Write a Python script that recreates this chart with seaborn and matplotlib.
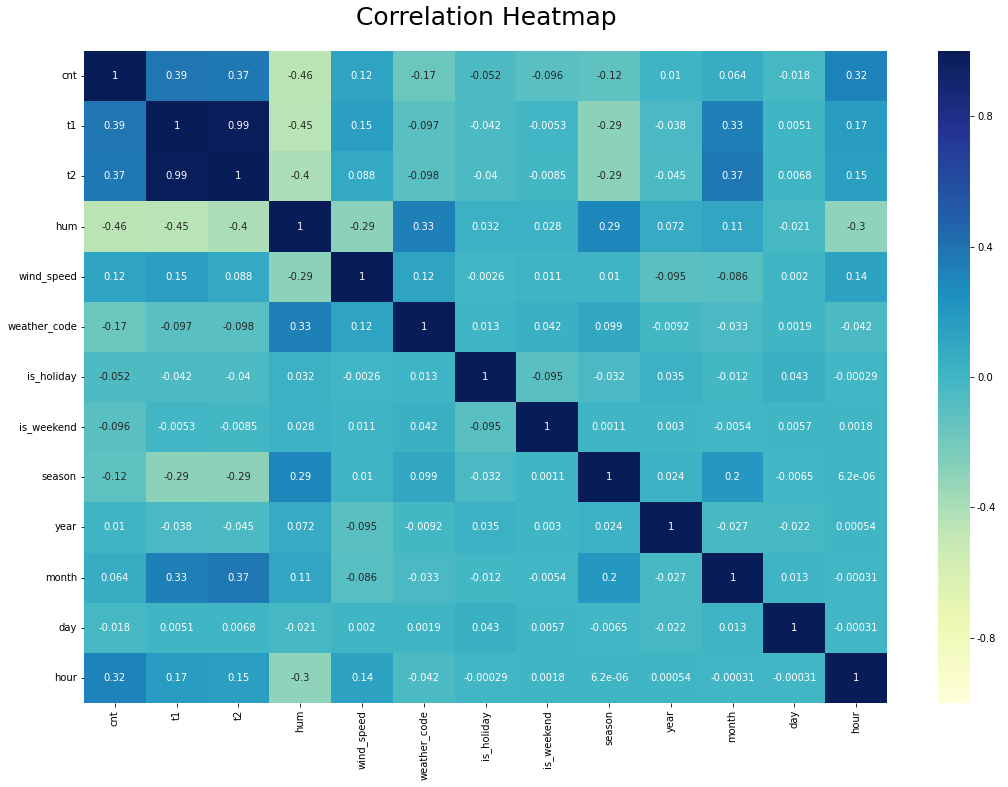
import numpy as np
import pandas as pd
import matplotlib
matplotlib.use("Agg")
import matplotlib.pyplot as plt
import seaborn as sns

plt.rcParams["axes.unicode_minus"] = False

labels = ["cnt", "t1", "t2", "hum", "wind_speed", "weather_code", "is_holiday",
          "is_weekend", "season", "year", "month", "day", "hour"]

r_cnt = [1, 0.39, 0.37, -0.46, 0.12, -0.17, -0.052, -0.096, -0.12, 0.01, 0.064, -0.018, 0.32]
r_t1 = [0.39, 1, 0.99, -0.45, 0.15, -0.097, -0.042, -0.0053, -0.29, -0.038, 0.33, 0.0051, 0.17]
r_t2 = [0.37, 0.99, 1, -0.4, 0.088, -0.098, -0.04, -0.0085, -0.29, -0.045, 0.37, 0.0068, 0.15]
r_hum = [-0.46, -0.45, -0.4, 1, -0.29, 0.33, 0.032, 0.028, 0.29, 0.072, 0.11, -0.021, -0.3]
r_wind = [0.12, 0.15, 0.088, -0.29, 1, 0.12, -0.0026, 0.011, 0.01, -0.095, -0.086, 0.002, 0.14]
r_weather = [-0.17, -0.097, -0.098, 0.33, 0.12, 1, 0.013, 0.042, 0.099, -0.0092, -0.033, 0.0019, -0.042]
r_holiday = [-0.052, -0.042, -0.04, 0.032, -0.0026, 0.013, 1, -0.095, -0.032, 0.035, -0.012, 0.043, -0.00029]
r_weekend = [-0.096, -0.0053, -0.0085, 0.028, 0.011, 0.042, -0.095, 1, 0.0011, 0.003, -0.0054, 0.0057, 0.0018]
r_season = [-0.12, -0.29, -0.29, 0.29, 0.01, 0.099, -0.032, 0.0011, 1, 0.024, 0.2, -0.0065, 6.2e-06]
r_year = [0.01, -0.038, -0.045, 0.072, -0.095, -0.0092, 0.035, 0.003, 0.024, 1, -0.027, -0.022, 0.00054]
r_month = [0.064, 0.33, 0.37, 0.11, -0.086, -0.033, -0.012, -0.0054, 0.2, -0.027, 1, 0.013, -0.00031]
r_day = [-0.018, 0.0051, 0.0068, -0.021, 0.002, 0.0019, 0.043, 0.0057, -0.0065, -0.022, 0.013, 1, -0.00031]
r_hour = [0.32, 0.17, 0.15, -0.3, 0.14, -0.042, -0.00029, 0.0018, 6.2e-06, 0.00054, -0.00031, -0.00031, 1]

rows = [r_cnt, r_t1, r_t2, r_hum, r_wind, r_weather, r_holiday, r_weekend,
        r_season, r_year, r_month, r_day, r_hour]
corr = pd.DataFrame(rows, index=labels, columns=labels)

W, H, DPI = 1008, 787, 72
fig = plt.figure(figsize=(W / DPI, H / DPI), dpi=DPI)
ax = fig.add_axes([84 / W, 1 - 703 / H, (887 - 84) / W, (703 - 51) / H])
cax = fig.add_axes([938 / W, 1 - 703 / H, (970 - 938) / W, (703 - 51) / H])

sns.heatmap(corr, ax=ax, cbar_ax=cax, cmap="YlGnBu", vmin=-1, vmax=1,
            annot=True, annot_kws={"fontsize": 10})
cax.set_yticks([-0.8, -0.4, 0.0, 0.4, 0.8])
cax.tick_params(labelsize=10)
ax.tick_params(labelsize=10)
ax.set_yticklabels(labels, rotation=0)
ax.set_xticklabels(labels, rotation=90)
fig.text(486 / W, 1 - 18 / H, "Correlation Heatmap", ha="center", va="center", fontsize=25)

fig.savefig("out.png", dpi=DPI)
